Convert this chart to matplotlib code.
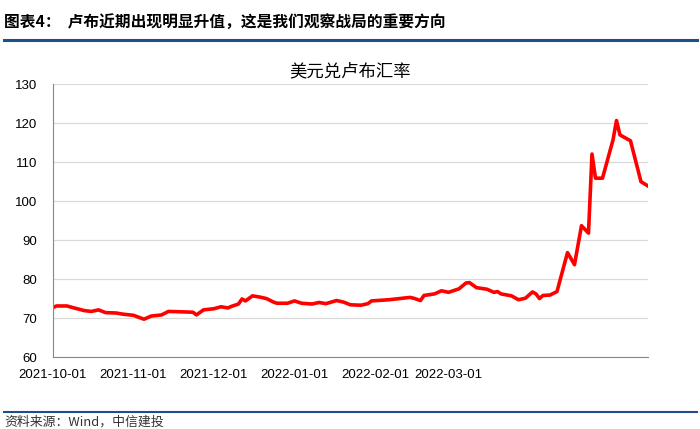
import matplotlib.pyplot as plt
from matplotlib.transforms import ScaledTranslation

plt.rcParams['font.family'] = ['Liberation Sans', 'Noto Sans CJK SC', 'DejaVu Sans']

# days since 2021-10-01 and USD/RUB rate
days = [0, 1, 4, 6, 9, 11, 13, 15, 18, 20, 23, 26, 28, 31, 33, 40, 41, 43,
        46, 48, 50, 51, 53, 54, 55, 57, 59, 61, 63, 64, 67, 69, 71, 74, 76,
        78, 81, 83, 85, 88, 90, 91, 96, 102, 103, 105, 106, 109, 111, 113,
        116, 118, 119, 121, 124, 126, 127, 128, 131, 133, 135, 137, 138, 139,
        140, 142, 144, 147, 149, 151, 153, 154, 155, 157, 160, 161, 162, 165,
        168, 170]
rate = [72.7, 73.1, 73.1, 72.6, 71.9, 71.7, 72.1, 71.4, 71.3, 71.0, 70.7,
        69.7, 70.5, 70.8, 71.7, 71.5, 70.8, 72.1, 72.4, 72.9, 72.6, 73.0,
        73.6, 74.9, 74.4, 75.7, 75.4, 75.0, 74.1, 73.8, 73.8, 74.4, 73.8,
        73.6, 74.0, 73.7, 74.5, 74.1, 73.4, 73.3, 73.7, 74.4, 74.7, 75.3,
        75.1, 74.5, 75.8, 76.2, 77.0, 76.6, 77.5, 79.0, 79.1, 77.8, 77.4,
        76.6, 76.8, 76.2, 75.7, 74.7, 75.1, 76.7, 76.2, 75.0, 75.8, 75.9,
        76.8, 86.8, 83.7, 93.7, 91.8, 112.1, 105.9, 105.9, 115.7, 120.7,
        117.0, 115.5, 105.0, 103.9]

tick_days = [0, 23, 46, 69, 92, 113]
tick_labels = ['2021-10-01', '2021-11-01', '2021-12-01', '2022-01-01',
               '2022-02-01', '2022-03-01']

fig = plt.figure(figsize=(7, 4.29), dpi=100)
ax = fig.add_axes([0.0757, 0.1678, 0.85, 0.6357])

ax.plot(days, rate, color='#FF0000', linewidth=2.6, solid_joinstyle='round')

ax.set_xlim(0, 170)
ax.set_ylim(60, 130)
ax.set_yticks(range(60, 131, 10))
ax.grid(axis='y', color='#D9D9D9', linewidth=0.9)
ax.set_axisbelow(True)

ax.set_xticks(tick_days)
ax.set_xticklabels(tick_labels)
shift = ScaledTranslation(-13 / 100, 0, fig.dpi_scale_trans)
for lab in ax.get_xticklabels():
    lab.set_transform(lab.get_transform() + shift)

ax.tick_params(axis='x', length=0, labelsize=9.5, pad=8.5)
ax.tick_params(axis='y', length=0, labelsize=9.5, pad=11.5)
for s in ['top', 'right']:
    ax.spines[s].set_visible(False)
for s in ['left', 'bottom']:
    ax.spines[s].set_color('#888888')
    ax.spines[s].set_linewidth(0.8)

ax.set_title('美元兑卢布汇率', fontsize=12.5, family=['Noto Sans CJK SC'], pad=6)

fig.text(0.006, 0.948, '图表4：  卢布近期出现明显升值，这是我们观察战局的重要方向',
         fontsize=11.3, fontweight='bold', family=['Noto Sans CJK SC', 'DejaVu Sans'],
         va='center', ha='left')
fig.add_artist(plt.Line2D([0.005, 0.995], [0.907, 0.907], color='#1F4E8C',
                          linewidth=2.2, transform=fig.transFigure))
fig.add_artist(plt.Line2D([0.005, 0.995], [0.04, 0.04], color='#1F4E8C',
                          linewidth=1.5, transform=fig.transFigure))
fig.text(0.006, 0.017, '资料来源：Wind，中信建投', fontsize=9.3, style='italic',
         color='#333333', family=['Noto Sans CJK SC', 'DejaVu Sans'],
         va='center', ha='left')

fig.savefig('out.png', dpi=100)
